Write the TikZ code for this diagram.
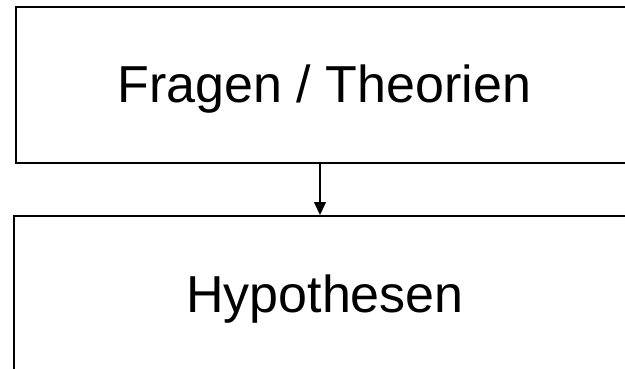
\documentclass[tikz,border=0pt]{standalone}
\usepackage{fontspec}
\setmainfont{Liberation Sans}
\usetikzlibrary{arrows.meta}
\begin{document}
\begin{tikzpicture}[x=1pt,y=-1pt,
  boxstyle/.style={draw=black,line width=1.6pt,inner sep=0pt,anchor=north west},
  lbl/.style={font=\fontsize{52}{60}\selectfont,inner sep=0pt,anchor=base},
  conn/.style={line width=1.3pt,-{Triangle[width=12pt,length=13pt]}}]
\useasboundingbox (0,0) rectangle (625,368);
\clip (0,0) rectangle (625,368);
\node[boxstyle,minimum width=640pt,minimum height=156pt] (b1) at (15,6) {};
\node[boxstyle,minimum width=640pt,minimum height=170pt] (b2) at (13,215) {};
\node[lbl] (t1) at (324.5,102) {Fragen / Theorien};
\node[lbl] (t2) at (325,312) {Hypothesen};
\draw[conn] ([xshift=305pt]b1.south west) -- ([xshift=307pt]b2.north west);
\end{tikzpicture}
\end{document}
